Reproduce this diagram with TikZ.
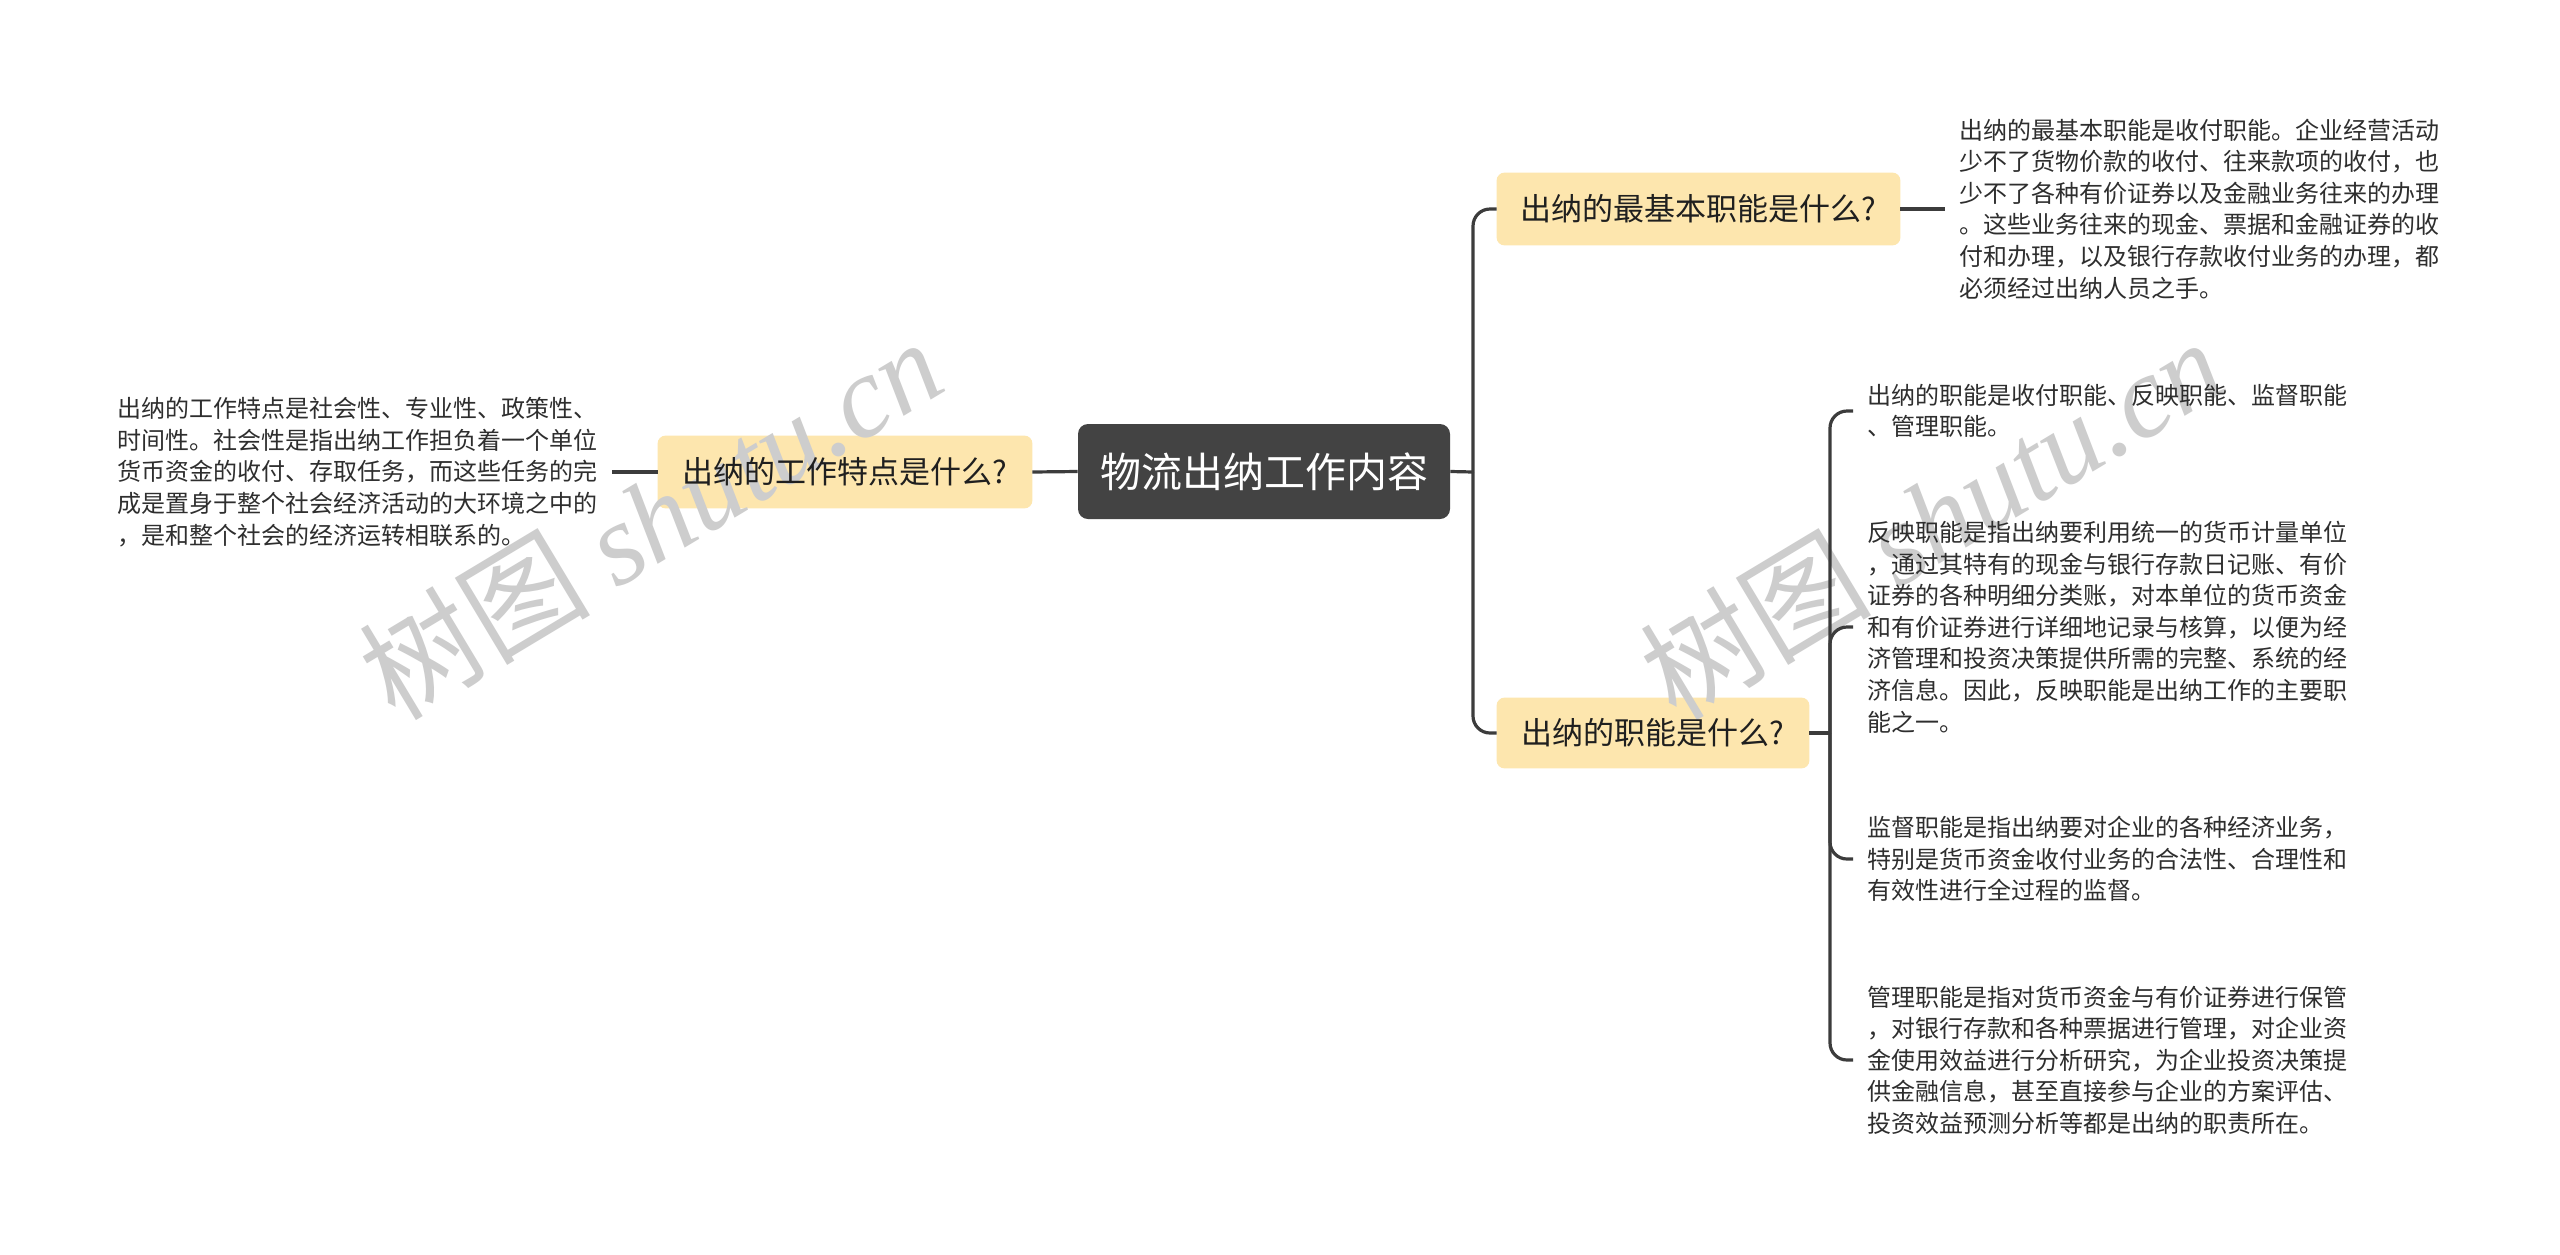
\documentclass[tikz,border=0pt]{standalone}
\usepackage{fontspec}
\setmainfont{Noto Sans CJK SC}
\newfontfamily\wmlatin{Liberation Serif}
\newfontfamily\wmcjk{Noto Sans CJK SC}
\definecolor{linec}{HTML}{3C3C3C}
\definecolor{topicc}{HTML}{FDE6AE}
\definecolor{rootc}{HTML}{434343}
\definecolor{textc}{HTML}{2E2E2E}
\definecolor{wmc}{HTML}{CDCDCD}
\pgfdeclarelayer{bglayer}
\pgfdeclarelayer{wmlayer}
\pgfsetlayers{bglayer,wmlayer,main}
\begin{document}
\begin{tikzpicture}[x=0.5pt,y=-0.5pt]
\tikzset{
  conn/.style={draw=linec, line width=1.6pt, rounded corners=8.5pt},
  topic/.style={minimum height=36pt, inner sep=0pt,
    font=\fontsize{15.5pt}{18pt}\selectfont, text=black!88},
  topicfill/.style={fill=topicc, rounded corners=4pt},
  rootnode/.style={fill=rootc, rounded corners=5pt, minimum width=186pt, minimum height=47.5pt,
    inner sep=0pt, font=\fontsize{20.5pt}{24pt}\selectfont, text=white},
  leaf/.style={inner xsep=7pt, inner ysep=0pt, align=left,
    font=\fontsize{12pt}{15.8pt}\selectfont, text=textc},
  wm/.style={text=wmc, rotate=31, inner sep=0pt,
    font=\fontsize{58pt}{60pt}\selectfont}
}
\begin{pgfonlayer}{bglayer}
\fill[white] (0,0) rectangle (2560,1254);
\end{pgfonlayer}
\useasboundingbox (0,0) rectangle (2560,1254);

% nodes
\node[rootnode] (root) at (1264,471.5) {物流出纳工作内容};
\node[topic, minimum width=187pt] (left) at (845,472) {出纳的工作特点是什么?};
\node[topic, minimum width=201.5pt] (top) at (1698.5,209) {出纳的最基本职能是什么?};
\node[topic, minimum width=156pt, minimum height=35pt] (bot) at (1653,733) {出纳的职能是什么?};

\begin{pgfonlayer}{bglayer}
\fill[topicfill] (left.south west) rectangle (left.north east);
\fill[topicfill] (top.south west) rectangle (top.north east);
\fill[topicfill] (bot.south west) rectangle (bot.north east);
\end{pgfonlayer}

\coordinate (sx) at (1473,472);
\coordinate (sy) at (1830,733);

\node[leaf, anchor=east] (lt) at (612,472) {出纳的工作特点是社会性、专业性、政策性、\\
时间性。社会性是指出纳工作担负着一个单位\\
货币资金的收付、存取任务，而这些任务的完\\
成是置身于整个社会经济活动的大环境之中的\\
，是和整个社会的经济运转相联系的。};

\node[leaf, anchor=west] (tt) at (1945,209) {出纳的最基本职能是收付职能。企业经营活动\\
少不了货物价款的收付、往来款项的收付，也\\
少不了各种有价证券以及金融业务往来的办理\\
。这些业务往来的现金、票据和金融证券的收\\
付和办理，以及银行存款收付业务的办理，都\\
必须经过出纳人员之手。};

\node[leaf, anchor=west] (b1) at (1853,411) {出纳的职能是收付职能、反映职能、监督职能\\
、管理职能。};

\node[leaf, anchor=west] (b2) at (1853,627) {反映职能是指出纳要利用统一的货币计量单位\\
，通过其特有的现金与银行存款日记账、有价\\
证券的各种明细分类账，对本单位的货币资金\\
和有价证券进行详细地记录与核算，以便为经\\
济管理和投资决策提供所需的完整、系统的经\\
济信息。因此，反映职能是出纳工作的主要职\\
能之一。};

\node[leaf, anchor=west] (b3) at (1853,859) {监督职能是指出纳要对企业的各种经济业务，\\
特别是货币资金收付业务的合法性、合理性和\\
有效性进行全过程的监督。};

\node[leaf, anchor=west] (b4) at (1853,1060) {管理职能是指对货币资金与有价证券进行保管\\
，对银行存款和各种票据进行管理，对企业资\\
金使用效益进行分析研究，为企业投资决策提\\
供金融信息，甚至直接参与企业的方案评估、\\
投资效益预测分析等都是出纳的职责所在。};

% connectors
\draw[conn] (root.west) -- (left.east);
\draw[conn] (left.west) -- (lt.east);
\draw[conn] (root.east) -- (sx);
\draw[conn] (sx) |- (top.west);
\draw[conn] (sx) |- (bot.west);
\draw[conn] (top.east) -- (tt.west);
\draw[conn] (bot.east) -- (sy);
\draw[conn] (sy) |- (b1.west);
\draw[conn] (sy) |- (b2.west);
\draw[conn] (sy) |- (b3.west);
\draw[conn] (sy) |- (b4.west);

% watermarks (above fills, below texts)
\begin{pgfonlayer}{wmlayer}
\node[wm] (wm1) at (650,518) {{\wmcjk 树图} {\wmlatin\itshape shutu.cn}};
\node[wm] (wm2) at (1931,518) {{\wmcjk 树图} {\wmlatin\itshape shutu.cn}};
\end{pgfonlayer}
\end{tikzpicture}
\end{document}
